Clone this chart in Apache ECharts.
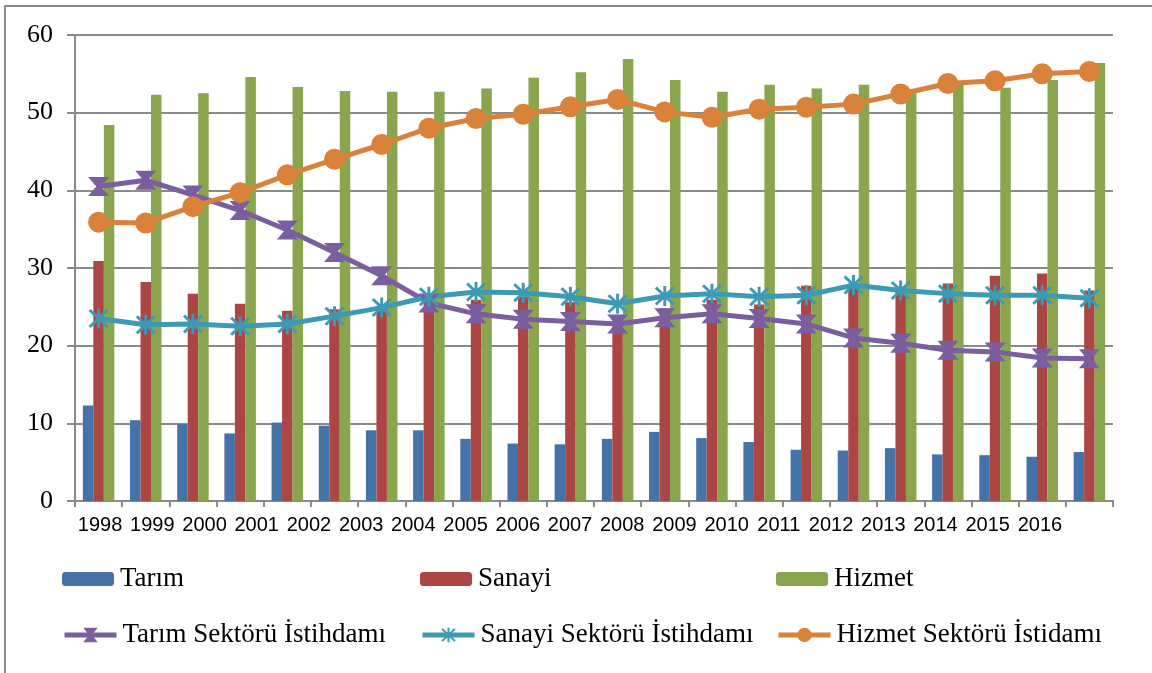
<!DOCTYPE html>
<html>
<head>
    <meta charset="utf-8">
    <script src="https://cdn.jsdelivr.net/npm/echarts@6.0.0/dist/echarts.min.js"></script>
    <style>
        body { margin: 0; background: #fff; }
    </style>
</head>

<body>
    <div id="main" style="width: 1152px;height:673px;"></div>
    <script type="text/javascript">
        // kategoriler (22 grup) ve eksende yazan yıllar
        var years = ['1998', '1999', '2000', '2001', '2002', '2003', '2004', '2005', '2006', '2007', '2008',
            '2009', '2010', '2011', '2012', '2013', '2014', '2015', '2016', '2017', '2018', '2019'];
        var tickLabels = ['1998', '1999', '2000', '2001', '2002', '2003', '2004', '2005', '2006', '2007',
            '2008', '2009', '2010', '2011', '2012', '2013', '2014', '2015', '2016'];

        // sütunlar
        var tarim = [12.3, 10.4, 9.9, 8.7, 10.1, 9.7, 9.1, 9.1, 8.0, 7.4, 7.3, 8.0, 8.9, 8.1, 7.6, 6.6, 6.5, 6.8, 6.0, 5.9, 5.7, 6.3];
        var sanayi = [30.9, 28.2, 26.7, 25.4, 24.5, 24.7, 24.8, 26.0, 25.9, 26.3, 25.6, 23.0, 24.8, 25.9, 25.3, 27.7, 28.0, 27.6, 28.0, 29.0, 29.3, 27.1];
        var hizmet = [48.4, 52.3, 52.5, 54.6, 53.3, 52.8, 52.7, 52.7, 53.1, 54.5, 55.2, 56.9, 54.2, 52.7, 53.6, 53.1, 53.6, 52.9, 53.6, 53.2, 54.2, 56.4];

        // istihdam çizgileri
        var tarimIst = [40.5, 41.3, 39.4, 37.4, 34.9, 32.0, 29.0, 25.5, 24.1, 23.4, 23.1, 22.8, 23.6, 24.1, 23.5, 22.8, 21.0, 20.3, 19.4, 19.2, 18.4, 18.3];
        var sanayiIst = [23.5, 22.7, 22.8, 22.5, 22.8, 23.8, 24.9, 26.3, 26.9, 26.8, 26.3, 25.4, 26.4, 26.7, 26.3, 26.5, 27.8, 27.1, 26.7, 26.5, 26.5, 26.1];
        var hizmetIst = [35.9, 35.8, 37.9, 39.7, 42.0, 44.0, 45.9, 48.0, 49.25, 49.8, 50.75, 51.7, 50.1, 49.4, 50.45, 50.7, 51.1, 52.4, 53.75, 54.1, 55.0, 55.3];

        var gray = '#8a8a8a';
        var hourglass = 'path://M0,0 L18,0 L11,8 L18,16 L0,16 L7,8 Z';
        var asterisk = 'path://M8.6,0 L11.4,0 L11.4,20 L8.6,20 Z M0.5,2.5 L2.5,0.5 L19.5,17.5 L17.5,19.5 Z M17.5,0.5 L19.5,2.5 L2.5,19.5 L0.5,17.5 Z';

        function legendAt(name, left, top, h) {
            return {
                data: [name],
                left: left,
                top: top,
                padding: 0,
                itemWidth: 52,
                itemHeight: h,
                itemGap: 0,
                lineStyle: { width: 5 },
                textStyle: {
                    fontFamily: 'Liberation Serif',
                    fontSize: 27,
                    lineHeight: 30,
                    color: '#000',
                    padding: [0, 0, 0, 1]
                }
            };
        }

        function bar(name, data, color) {
            return {
                name: name,
                type: 'bar',
                barWidth: 10.5,
                barGap: '0%',
                itemStyle: { color: color },
                data: data
            };
        }

        function line(name, data, color, symbol, size) {
            return {
                name: name,
                type: 'line',
                symbol: symbol,
                symbolSize: size,
                lineStyle: { color: color, width: 5 },
                itemStyle: { color: color },
                z: 3,
                data: data
            };
        }

        var option = {
            animation: false,
            graphic: [{
                type: 'rect',
                shape: { x: 5, y: 6, width: 1200, height: 800 },
                style: { fill: 'none', stroke: gray, lineWidth: 2 }
            }],
            legend: [
                legendAt('Tarım', 62, 564, 14),
                legendAt('Sanayi', 420, 564, 14),
                legendAt('Hizmet', 776, 564, 14),
                legendAt('Tarım Sektörü İstihdamı', 62, 620, 18),
                legendAt('Sanayi Sektörü İstihdamı', 420, 620, 18),
                legendAt('Hizmet Sektörü İstidamı', 776, 620, 18)
            ],
            grid: [
                { left: 75, right: 39, top: 35, bottom: 172 },
                // yalnızca yıl yazıları için
                { left: 74, right: 86, top: 35, bottom: 172 }
            ],
            xAxis: [
                {
                    type: 'category',
                    data: years,
                    boundaryGap: true,
                    axisLine: { lineStyle: { color: gray, width: 2 } },
                    axisTick: { show: true, interval: 0, length: 6, lineStyle: { color: gray, width: 2 } },
                    axisLabel: { show: false },
                    splitLine: { show: false }
                },
                {
                    type: 'category',
                    gridIndex: 1,
                    data: tickLabels,
                    axisLine: { show: false },
                    axisTick: { show: false },
                    axisLabel: {
                        interval: 0,
                        margin: 14,
                        fontFamily: 'Liberation Sans',
                        fontSize: 20,
                        color: '#000'
                    }
                }
            ],
            yAxis: [
                {
                    type: 'value',
                    min: 0,
                    max: 60,
                    interval: 10,
                    axisLine: { show: true, lineStyle: { color: gray, width: 2 } },
                    axisTick: { show: true, length: 8, lineStyle: { color: gray, width: 2 } },
                    axisLabel: {
                        margin: 22,
                        fontFamily: 'Liberation Serif',
                        fontSize: 26,
                        color: '#000'
                    },
                    splitLine: { lineStyle: { color: gray, width: 2 } }
                },
                {
                    type: 'value',
                    gridIndex: 1,
                    min: 0,
                    max: 60,
                    show: false
                }
            ],
            series: [
                bar('Tarım', tarim, '#4572A7'),
                bar('Sanayi', sanayi, '#AA4643'),
                bar('Hizmet', hizmet, '#89A54E'),
                line('Tarım Sektörü İstihdamı', tarimIst, '#7B5EA0', hourglass, [21, 19]),
                line('Sanayi Sektörü İstihdamı', sanayiIst, '#3D9AB4', asterisk, 20),
                line('Hizmet Sektörü İstidamı', hizmetIst, '#DB823A', 'circle', 21)
            ]
        };

        var myChart = echarts.init(document.getElementById('main'));
        myChart.setOption(option);
    </script>
</body>

</html>
